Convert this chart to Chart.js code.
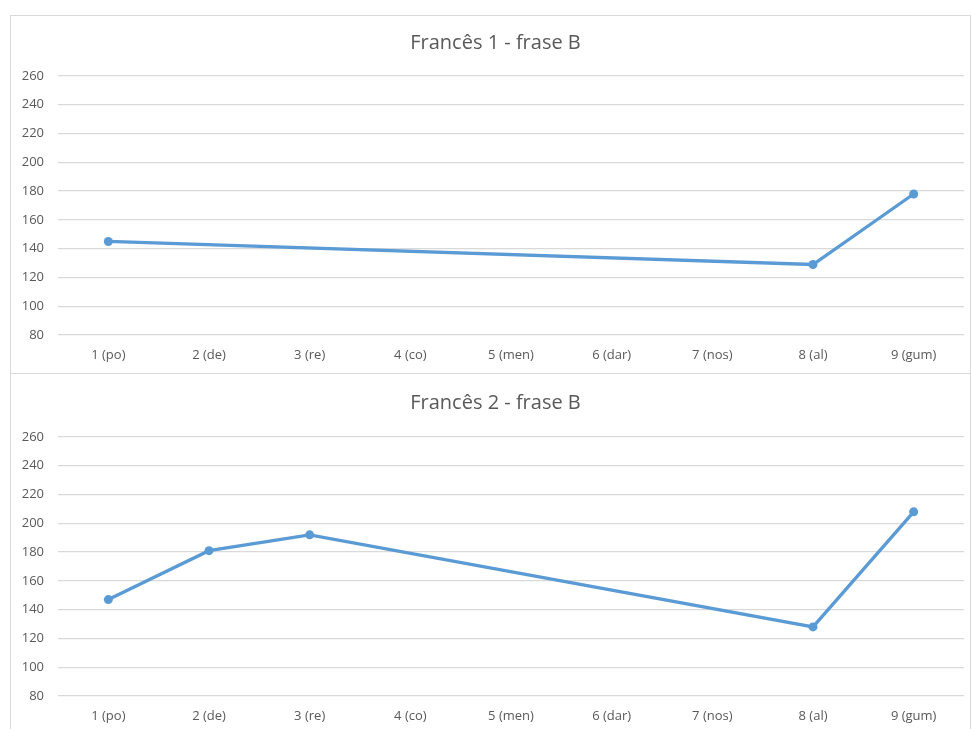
<!DOCTYPE html>
<html>
<head>
<meta charset="utf-8">
<script src="https://cdn.jsdelivr.net/npm/chart.js@4/dist/chart.umd.min.js"></script>
<style>
  html, body { margin: 0; padding: 0; background: #ffffff; }
  body { width: 971px; height: 729px; position: relative; overflow: hidden; }
  .box { position: absolute; left: 10px; width: 961px; border: 1px solid #d9d9d9; box-sizing: border-box; background: #fff; }
  #box1 { top: 15px; height: 359px; }
  #box2 { top: 373px; height: 370px; }
  .box canvas { position: absolute; left: 0; top: 0; }
</style>
</head>
<body>
<div class="box" id="box1"><canvas id="chart1" width="959" height="357"></canvas></div>
<div class="box" id="box2"><canvas id="chart2" width="959" height="355"></canvas></div>
<script>
// Syllables of the sentence (x axis)
const categories = ['1 (po)', '2 (de)', '3 (re)', '4 (co)', '5 (men)', '6 (dar)', '7 (nos)', '8 (al)', '9 (gum)'];

// Pitch values per syllable; null where no measurement was taken
const frances1 = [145, null, null, null, null, null, null, 129, 178];
const frances2 = [147, 181, 192, null, null, null, null, 128, 208];

// Vertical axis range
const yMin = 80;
const yMax = 260;
const yStep = 20;

const titles = ['Francês 1 - frase B', 'Francês 2 - frase B'];

const FONT = '"Open Sans", "DejaVu Sans", sans-serif';
const TEXT = '#595959';
const GRID = '#d9d9d9';
const LINE = '#5b9bd5';

// Nudges the title block a little to the right of the canvas centre
const titleNudge = {
  id: 'titleNudge',
  afterLayout(chart, args, opts) {
    const t = chart.titleBlock;
    if (t) { t.left += opts.dx; t.right += opts.dx; }
  }
};

function buildChart(id, title, values, titlePad, xAxisHeight) {
  return new Chart(document.getElementById(id), {
    type: 'line',
    data: {
      labels: categories,
      datasets: [{
        data: values,
        borderColor: LINE,
        backgroundColor: LINE,
        borderWidth: 3.3,
        pointRadius: 4.5,
        pointHoverRadius: 4.5,
        pointBorderWidth: 0,
        spanGaps: true,
        tension: 0
      }]
    },
    options: {
      responsive: false,
      animation: false,
      layout: { padding: { left: 0, right: 6, top: 0, bottom: 0 } },
      plugins: {
        legend: { display: false },
        tooltip: { enabled: false },
        titleNudge: { dx: 8 },
        title: {
          display: true,
          text: title,
          color: TEXT,
          font: { family: FONT, size: 20, weight: 'normal', lineHeight: 1.2 },
          padding: titlePad
        }
      },
      scales: {
        x: {
          offset: true,
          grid: { display: false, drawTicks: false },
          border: { display: false },
          ticks: { color: TEXT, font: { family: FONT, size: 13 }, padding: 12, maxRotation: 0, autoSkip: false },
          afterFit: s => { s.height = xAxisHeight; }
        },
        y: {
          min: yMin,
          max: yMax,
          grid: { color: GRID, lineWidth: 1.3, drawTicks: false },
          border: { display: false },
          ticks: { stepSize: yStep, color: TEXT, font: { family: FONT, size: 13 }, padding: 14 },
          afterFit: s => { s.width = 47; }
        }
      }
    },
    plugins: [titleNudge]
  });
}

buildChart('chart1', titles[0], frances1, { top: 15, bottom: 21 }, 38);
buildChart('chart2', titles[1], frances2, { top: 17, bottom: 22 }, 33);
</script>
</body>
</html>
